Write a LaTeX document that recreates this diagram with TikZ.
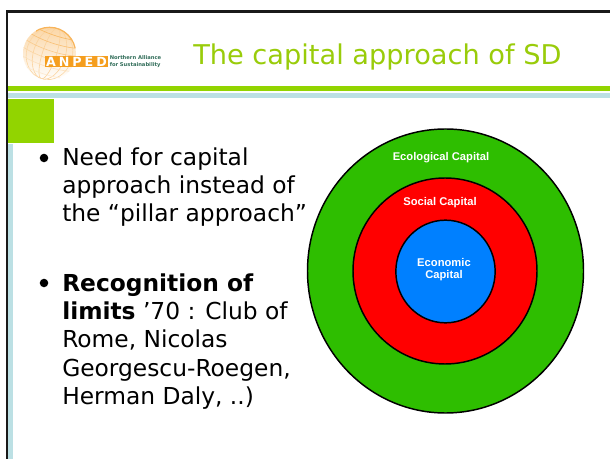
\documentclass[tikz,border=0pt]{standalone}
\usepackage{fontspec}
\usetikzlibrary{shapes.geometric}
\setmainfont{DejaVu Sans}
\newfontfamily\labelfont{Liberation Sans}
\definecolor{lime}{RGB}{146,212,0}
\definecolor{titlegreen}{RGB}{153,204,10}
\definecolor{pale}{RGB}{188,224,228}
\definecolor{ecogreen}{RGB}{46,190,0}
\definecolor{socred}{RGB}{255,0,0}
\definecolor{econblue}{RGB}{0,128,255}
\definecolor{anped}{RGB}{245,158,30}
\definecolor{anpedgreen}{RGB}{50,110,90}
\definecolor{globe}{RGB}{248,180,90}
\tikzset{
  x=0.75pt,y=-0.75pt,
  bodytext/.style={anchor=north west,align=left,inner sep=0pt,font=\fontsize{17.5}{21.2}\selectfont,text=black},
  ring/.style={draw=black,line width=1.1pt,ellipse,inner sep=0pt},
  ringlabel/.style={text=white,align=center,inner sep=0pt,font=\labelfont\bfseries\fontsize{8.4}{9.2}\selectfont},
  bulletdot/.style={circle,fill=black,inner sep=0pt,minimum size=6.4pt},
  gridline/.style={line width=0.45pt}
}
\begin{document}
\begin{tikzpicture}
\useasboundingbox (0,0) rectangle (610,459);
\fill[white] (0,0) rectangle (610,459);
% frame
\fill[pale] (8,144) rectangle (12.7,459);
\fill[black!90] (5.7,10.3) rectangle (610,12.7);
\fill[black!90] (5.7,10.3) rectangle (7.7,459);
% bars
\fill[lime] (8,86) rectangle (610,91);
\fill[pale] (8,93) rectangle (610,98);
\fill[lime] (8,99) rectangle (54,143);
% logo globe
\begin{scope}
\clip (49.5,53.5) circle (26.5);
\shade[shading angle=200,top color=globe!55,bottom color=white] (22,26) rectangle (77,81);
\begin{scope}[rotate around={-18:(49.5,53.5)}]
\foreach \r/\c in {7/60,16/60,23/55}{\draw[gridline,globe!\c] (49.5,53.5) ellipse ({\r} and 26.5);}
\foreach \yy/\c in {31/95,39/85,47/70,55/55,63/40,71/30}{\draw[gridline,globe!\c] (20,\yy) .. controls (38,\yy+5) and (61,\yy+5) .. (79,\yy);}
\end{scope}
\end{scope}
\begin{scope}
\clip (36,20) rectangle (80,48);
\draw[globe,line width=0.9pt] (49.5,53.5) circle (26.2);
\end{scope}
\fill[anped] (45,56) rectangle (108,67);
\node[anchor=center,text=white,inner sep=0pt,font=\bfseries\fontsize{9.5}{10}\selectfont] (logo) at (76.5,61.5) {A\hspace{2.2pt}N\hspace{2.2pt}P\hspace{2.2pt}E\hspace{2.2pt}D};
\node[anchor=north west,align=left,inner sep=0pt,text=anpedgreen,font=\bfseries\fontsize{3.9}{4.9}\selectfont] (logotext) at (109.5,55.5) {Northern Alliance\\for Sustainability};
% title
\node[anchor=base west,inner sep=0pt,text=titlegreen,font=\fontsize{20.4}{24}\selectfont] (title) at (193,64.5) {The capital approach of SD};
% body
\node[bulletdot] (b1) at (44,158) {};
\node[bodytext] (t1) at (62,147.3) {Need for capital\\approach instead of\\the “pillar approach”};
\node[bulletdot] (b2) at (44,283) {};
\node[bodytext] (t2) at (62,273.3) {\textbf{Recognition of}\\\textbf{limits} ’70 : Club of\\Rome, Nicolas\\Georgescu-Roegen,\\Herman Daly, ..)};
% rings
\node[ring,fill=ecogreen,minimum width=207pt,minimum height=213pt] (eco) at (445.5,271) {};
\node[ring,fill=socred,minimum width=138pt,minimum height=139.5pt] (soc) at (445,271) {};
\node[ring,fill=econblue,minimum width=74.5pt,minimum height=77pt] (econ) at (445.5,271.5) {};
\node[ringlabel] (lab1) at (441,158) {Ecological Capital};
\node[ringlabel] (lab2) at (440,203) {Social Capital};
\node[ringlabel] (lab3) at (444,269.5) {Economic\\Capital};
\end{tikzpicture}
\end{document}
